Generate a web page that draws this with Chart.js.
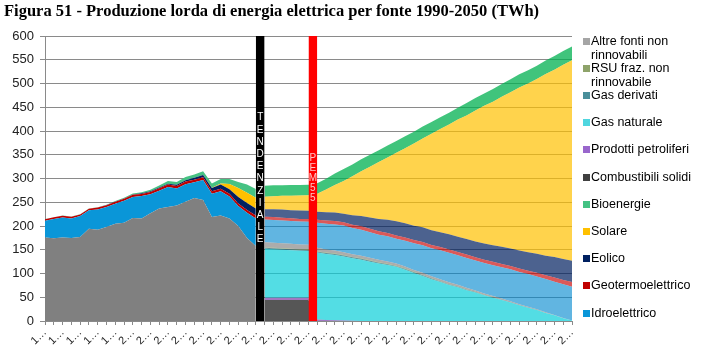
<!DOCTYPE html>
<html><head><meta charset="utf-8">
<script src="https://cdn.jsdelivr.net/npm/chart.js@4.4.1/dist/chart.umd.min.js"></script>
<style>
html,body{margin:0;padding:0;background:#fff;}
#wrap{position:relative;width:702px;height:360px;overflow:hidden;background:#fff;}
#c{position:absolute;left:0;top:0;}
#title{position:absolute;left:4px;top:1px;font:bold 16.5px "Liberation Serif";white-space:nowrap;color:#000;z-index:2;}
#legend{position:absolute;left:583px;top:0;width:119px;height:360px;font:12.5px "Liberation Sans",Arial,sans-serif;color:#000;z-index:2;}
.sw{position:absolute;left:0;width:7px;height:7px;}
.tx{position:absolute;left:8px;width:110px;line-height:14.5px;white-space:normal;}
</style></head>
<body>
<div id="wrap">
  <div id="title">Figura 51 - Produzione lorda di energia elettrica per fonte 1990-2050 (TWh)</div>
  <canvas id="c" width="702" height="360"></canvas>
  <div id="legend"></div>
</div>
<script>
// ---------- categories ----------
const years = [1990,1991,1992,1993,1994,1995,1996,1997,1998,1999,2000,2001,2002,2003,2004,2005,2006,2007,2008,2009,2010,
2011,2012,2013,2014,2015,2016,2017,2018,2019,2020,2021,2022,2023,2024,2025,2026,2027,2028,2029,2030,
2031,2032,2033,2034,2035,2036,2037,2038,2039,2040,2041,2042,2043,2044,2045,2046,2047,2048,2049,2050];

// ---------- historical series 1990-2014 (TWh) ----------
const histTermico = [176,174,176,175,177,194,192,198,205,207,217,216,227,237,240,243,251,259,255,219,222,216,200,175,158];
const histIdro    = [35,41,42,41,44,39,43,42,42,46,44,47,40,37,42,36,37,33,42,49,51,46,42,53,58];
const histGeo     = [3.2,3.2,3.5,3.7,3.4,3.4,3.8,3.9,4.2,4.4,4.7,4.5,4.7,5.3,5.4,5.3,5.5,5.6,5.5,5.3,5.4,5.7,5.6,5.7,5.9];
const histEolico  = [0,0,0,0,0,0,0,0.1,0.2,0.4,0.6,1.2,1.4,1.5,1.8,2.3,3.0,4.0,4.9,6.5,9.1,9.9,13.4,14.9,15.2];
const histSolare  = [0,0,0,0,0,0,0,0,0,0,0,0,0,0,0,0,0,0,0.2,0.7,1.9,10.8,18.9,21.6,22.3];
const histBio     = [0.3,0.3,0.4,0.4,0.5,0.6,0.7,0.8,1.2,1.5,1.9,2.6,3.4,4.5,5.6,6.2,6.7,6.9,7.5,9.1,9.4,10.8,12.5,17.1,18.7];

// ---------- scenario series 2015-2050 (TWh): 2015-2020 tendenziale, 2021-2050 PEM55 ----------
const scSolidi  = [44,44,44,44,44,44, 0,0,0,0,0,0,0,0,0,0,0,0,0,0,0,0,0,0,0,0,0,0,0,0,0,0,0,0,0,0];
const scPetrol  = [5,5,5,5,5,5, 3,2,1.5,1,0.5,0,0,0,0,0,0,0,0,0,0,0,0,0,0,0,0,0,0,0,0,0,0,0,0,0];
const scGasNat  = [103,102,101,100,99,98.5, 141,139,137.5,135,131.5,129,125,121,118,114,108,101,95,88,82,76,71,65,60,54,49,44,39,33,28,23,17,12,6,1];
const scGasDer  = [2,2,2,2,2,2, 2,2,2,2,2,2,2,1.5,1.5,1.5,1.5,1.5,1.5,1.5,1,1,1,1,1,1,1,0.5,0.5,0.5,0.5,0.5,0,0,0,0];
const scRsu     = [1,1,1,1,1,1, 1,1,1,1,1,1,1,1,1,1,1,1,0.5,0.5,0.5,0.5,0.5,0.5,0.5,0.5,0.5,0.5,0,0,0,0,0,0,0,0];
const scAltre   = [11,11,10.5,10.5,10,10, 7,6.7,6.3,6,5.7,5.3,5,5.2,4.8,4.5,4.3,4.1,4.4,4.2,4.5,4.1,3.7,3.3,2.9,2.5,2.1,2.2,2.3,1.9,1.5,1.1,1.2,0.8,0.4,0];
const scIdro    = [47.5,47.7,48,48.2,48.4,48.5, 53,54,55,56,55,55,54,53,53,52,54,56,58,59,61,62,62,63,63,64,65,66,67,68,69,69,70,70,71,71];
const scGeo     = [6,6,6,5.5,5.5,5.5, 6,7,7,7,7,7,7,7,7,7,7,7,7,7,7,7,7,7,7,7,7,7,7,7,7,8,8,9,9,10];
const scEolico  = [16,16.5,17,17,17.5,17.5, 17,17,18,18,20,22,24,26,28,30,30,30,31,31,31,32,32,33,33,34,35,36,37,38,39,40,41,43,44,45];
const scSolare  = [26,27.5,29,30.5,32,33, 38,48,58,69,82,94,107,120,131,144,158,173,187,203,217,231,247,260,276,290,302,316,329,343,355,368,383,394,409,422];
const scBio     = [23,23,22.5,22.5,22,22, 22,23,24,25,25,25,25,25,25,25,25,25,25,25,25,25,25,26,26,26,27,27,27,28,28,28,28,29,29,29];

// ---------- separator bars (full-height columns between two years) ----------
const tendBarYears = [2014, 2015];
const pemBarYears  = [2020, 2021];
const barValue = 600;

// ---------- legend ----------
const legendNames  = ['Altre fonti non rinnovabili','RSU fraz. non rinnovabile','Gas derivati','Gas naturale','Prodotti petroliferi','Combustibili solidi','Bioenergie','Solare','Eolico','Geotermoelettrico','Idroelettrico'];
const legendColors = ['#a5a5a5','#8ea36a','#4a8f9a','#4fd6df','#9966cc','#404040','#43c283','#ffc000','#002060','#c00000','#0a96d8'];

const N = years.length;
const hist = a => a.concat(new Array(N - a.length).fill(null));
const scen = a => new Array(N - a.length).fill(null).concat(a);
const bar = ys => years.map(y => ys.includes(y) ? barValue : null);

const base = {type:'line', pointRadius:0, pointHoverRadius:0, borderWidth:0, borderColor:'rgba(0,0,0,0)', tension:0};
function ds(label, data, color, fill, stack){
  return Object.assign({}, base, {label, data, backgroundColor:color, fill, stack, yAxisID:'y'});
}

const datasets = [
  Object.assign({}, base, {label:'TENDENZIALE', data:bar(tendBarYears), backgroundColor:'#000000', fill:'origin', yAxisID:'yb'}),
  Object.assign({}, base, {label:'PEM55', data:bar(pemBarYears), backgroundColor:'#ff0000', fill:'origin', yAxisID:'yb'}),
  ds('Termoelettrico', hist(histTermico), '#808080', 'origin', 'h'),
  ds('Idroelettrico', hist(histIdro), '#0a96d8', '-1', 'h'),
  ds('Geotermoelettrico', hist(histGeo), '#c00000', '-1', 'h'),
  ds('Eolico', hist(histEolico), '#002060', '-1', 'h'),
  ds('Solare', hist(histSolare), '#ffc000', '-1', 'h'),
  ds('Bioenergie', hist(histBio), '#46c283', '-1', 'h'),
  ds('Combustibili solidi', scen(scSolidi), 'rgba(38,38,38,0.78)', 'origin', 's'),
  ds('Prodotti petroliferi', scen(scPetrol), 'rgba(112,48,160,0.65)', '-1', 's'),
  ds('Gas naturale', scen(scGasNat), 'rgba(10,206,216,0.7)', '-1', 's'),
  ds('Gas derivati', scen(scGasDer), 'rgba(40,110,125,0.75)', '-1', 's'),
  ds('RSU fraz. non rinnovabile', scen(scRsu), 'rgba(119,147,60,0.7)', '-1', 's'),
  ds('Altre fonti non rinnovabili', scen(scAltre), 'rgba(128,128,128,0.65)', '-1', 's'),
  ds('Idroelettrico', scen(scIdro), 'rgba(0,136,206,0.62)', '-1', 's'),
  ds('Geotermoelettrico', scen(scGeo), 'rgba(200,0,0,0.65)', '-1', 's'),
  ds('Eolico', scen(scEolico), 'rgba(0,32,96,0.7)', '-1', 's'),
  ds('Solare', scen(scSolare), 'rgba(255,192,0,0.7)', '-1', 's'),
  ds('Bioenergie', scen(scBio), 'rgba(0,176,80,0.75)', '-1', 's')
];

const barText = {
  id:'barText',
  afterDatasetsDraw(chart){
    const {ctx, scales} = chart;
    const x = scales.x, y = scales.y;
    function column(text, ys, startVal, step, color){
      const i0 = years.indexOf(ys[0]), i1 = years.indexOf(ys[1]);
      const cx = (x.getPixelForValue(i0) + x.getPixelForValue(i1)) / 2;
      let cy = y.getPixelForValue(startVal);
      ctx.fillStyle = color;
      for (const ch of text){ ctx.fillText(ch, cx, cy); cy += step; }
    }
    ctx.save();
    ctx.font = '10px "Liberation Sans", Arial, sans-serif';
    ctx.textAlign = 'center'; ctx.textBaseline = 'middle';
    column('TENDENZIALE', tendBarYears, 428, 12.2, '#ffffff');
    column('PEM55', pemBarYears, 343, 10, '#ffc4c4');
    ctx.restore();
  }
};

new Chart(document.getElementById('c'), {
  type:'line',
  data:{labels:years, datasets},
  plugins:[barText],
  options:{
    responsive:false, animation:false, devicePixelRatio:1,
    events:[],
    layout:{padding:{left:0, right:130, top:36, bottom:9}},
    plugins:{legend:{display:false}, tooltip:{enabled:false}, title:{display:false}},
    scales:{
      x:{
        type:'category', offset:false,
        grid:{display:true, drawOnChartArea:false, drawTicks:true, tickLength:4, color:'#8a8a8a'},
        border:{display:true, color:'#8a8a8a'},
        ticks:{autoSkip:false, maxRotation:45, minRotation:45, padding:1, color:'#222',
          font:{family:'Liberation Sans', size:11},
          callback:(v, i) => i % 2 === 0 ? String(years[i]).charAt(0) + '…' : ''},
        afterFit(s){ s.height = 30; }
      },
      y:{
        stacked:true, min:0, max:600,
        ticks:{stepSize:50, padding:6, color:'#222', font:{family:'Liberation Sans', size:13}},
        grid:{color:'#8a8a8a', tickLength:5, drawTicks:true},
        border:{display:true, color:'#8a8a8a'},
        afterFit(s){ s.width = 45; }
      },
      yb:{display:false, min:0, max:600, stacked:false}
    }
  }
});

// HTML legend
const lg = document.getElementById('legend');
legendNames.forEach((name, k) => {
  const cy = 41 + 27.2 * k;
  const sw = document.createElement('div');
  sw.className = 'sw'; sw.style.top = (cy - 3.5) + 'px'; sw.style.background = legendColors[k];
  const tx = document.createElement('div');
  tx.className = 'tx'; tx.style.top = (cy - 7.5) + 'px'; tx.textContent = name;
  lg.appendChild(sw); lg.appendChild(tx);
});
</script>
</body></html>
